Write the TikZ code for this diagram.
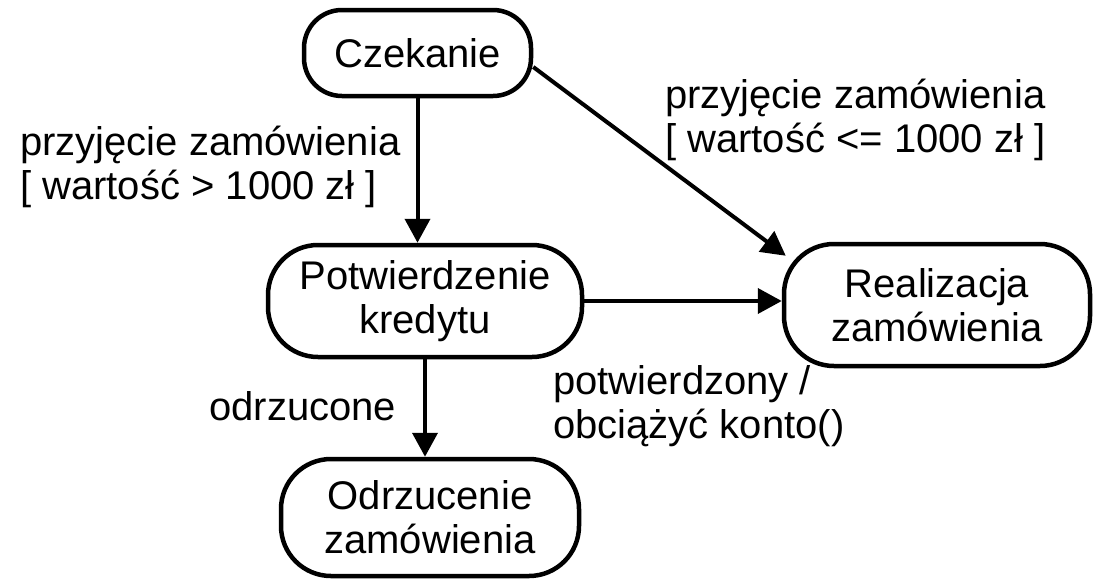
\documentclass[tikz,border=0pt]{standalone}
\usepackage{fontspec}
\setmainfont{Liberation Sans}
\usetikzlibrary{arrows.meta,calc}
\begin{document}
\begin{tikzpicture}[x=1pt,y=-1pt,
  every node/.style={font=\fontsize{40}{44}\selectfont},
  state/.style={draw, line width=4.5pt, rounded corners=50pt, inner sep=0pt, align=center},
  lbl/.style={anchor=west, align=left, inner sep=0pt},
  arr/.style={line width=4pt, -{Triangle[length=24pt,width=25pt]}}]
\useasboundingbox (0,0) rectangle (1095,579);
\node[state, rounded corners=38pt, minimum width=227pt, minimum height=86pt] (cz) at (417.5,53) {Czekanie};
\node[state, minimum width=314pt, minimum height=112pt] (pk) at (425,301) {Potwierdzenie\\kredytu};
\node[state, minimum width=306pt, minimum height=122pt] (re) at (937,305) {Realizacja\\zamówienia};
\node[state, minimum width=298pt, minimum height=117pt] (od) at (430,517.5) {Odrzucenie\\zamówienia};
\draw[arr] (cz.south) -- (pk.north -| cz.south);
\draw[arr] (pk.south) -- (od.north -| pk.south);
\draw[arr] (pk.east) -- (re.west |- pk.east);
\draw[arr] ($(cz.east)+(0,14)$) -- ($(re.north west)+(4,14)$);
\node[lbl] (l1) at (20,167) {przyjęcie zamówienia\\{[} wartość > 1000 zł ]};
\node[lbl] (l2) at (665,120) {przyjęcie zamówienia\\{[} wartość <= 1000 zł ]};
\node[lbl] (l3) at (553,406) {potwierdzony /\\obciążyć konto()};
\node[lbl] (l4) at (209,406) {odrzucone};
\end{tikzpicture}
\end{document}
